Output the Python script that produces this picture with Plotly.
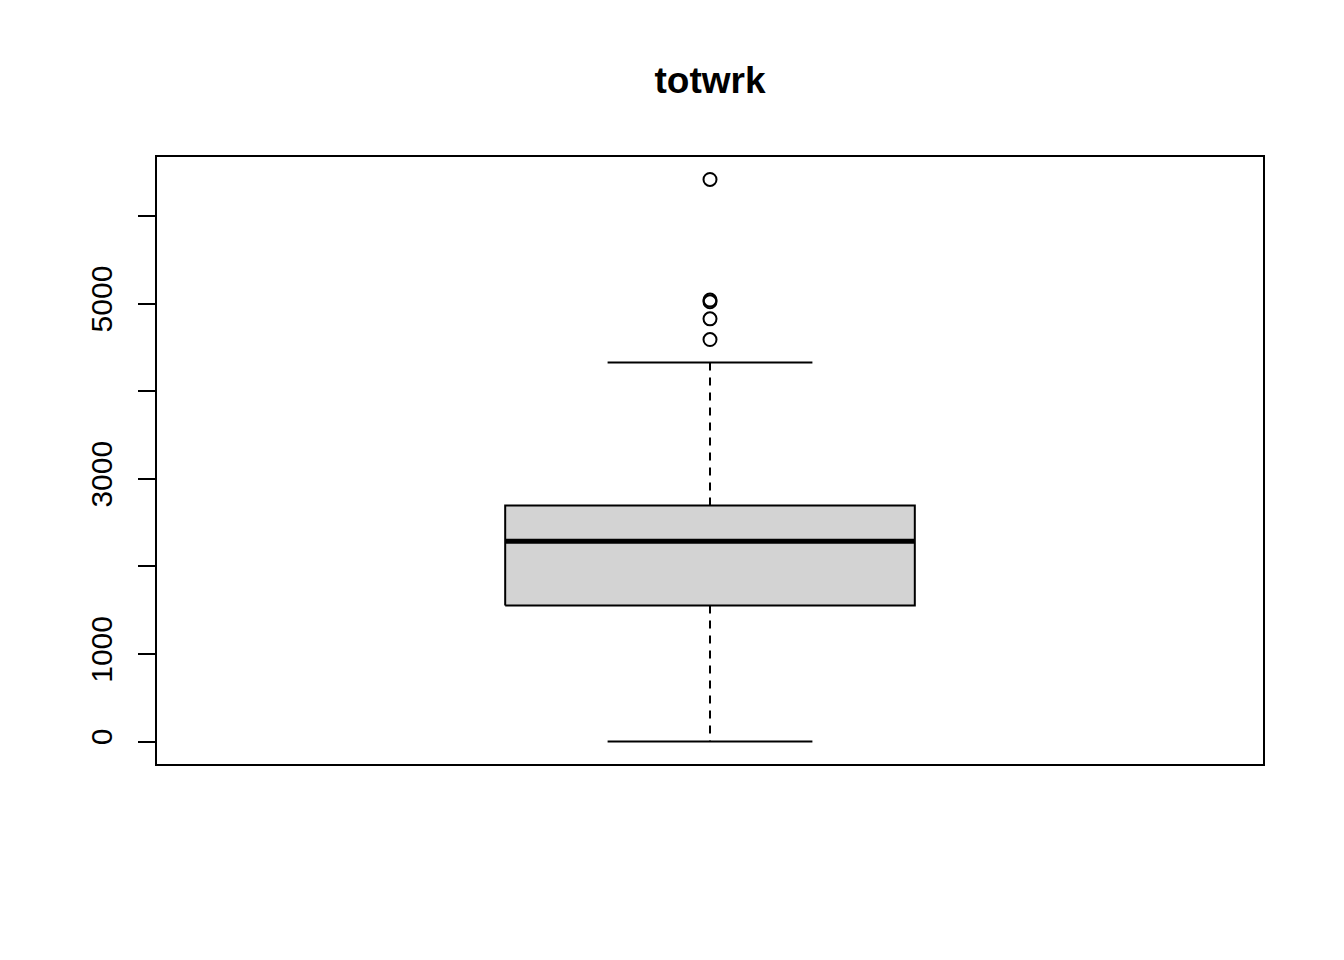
import plotly.graph_objects as go

# Data
title_text = "totwrk"
q1 = 1552
median = 2287
q3 = 2694
lower_whisker = 0
upper_whisker = 4326
outliers = [4589, 4825, 5020, 5040, 6416]
tick_vals = [0, 1000, 2000, 3000, 4000, 5000, 6000]
tick_text = ["0", "1000", "", "3000", "", "5000", ""]

pos = 1.0
half_box = 0.2
half_staple = 0.1

fig = go.Figure()

# Box body
fig.add_trace(go.Scatter(
    x=[pos - half_box, pos + half_box, pos + half_box, pos - half_box, pos - half_box],
    y=[q1, q1, q3, q3, q1],
    mode="lines", fill="toself", fillcolor="#d3d3d3",
    line=dict(color="black", width=2), hoverinfo="skip", showlegend=False))
# Median
fig.add_trace(go.Scatter(
    x=[pos - half_box, pos + half_box], y=[median, median],
    mode="lines", line=dict(color="black", width=5), showlegend=False))
# Whiskers (dashed)
fig.add_trace(go.Scatter(
    x=[pos, pos], y=[q3, upper_whisker], mode="lines",
    line=dict(color="black", width=2, dash="8px,7px"), showlegend=False))
fig.add_trace(go.Scatter(
    x=[pos, pos], y=[q1, lower_whisker], mode="lines",
    line=dict(color="black", width=2, dash="8px,7px"), showlegend=False))
# Staples
for v in [upper_whisker, lower_whisker]:
    fig.add_trace(go.Scatter(
        x=[pos - half_staple, pos + half_staple], y=[v, v], mode="lines",
        line=dict(color="black", width=2), showlegend=False))
# Outliers
fig.add_trace(go.Scatter(
    x=[pos] * len(outliers), y=outliers, mode="markers",
    marker=dict(symbol="circle-open", size=13, color="black", line=dict(width=2)),
    showlegend=False))

ymax = max(outliers)
ypad = 0.04 * (ymax - lower_whisker)

fig.update_layout(
    width=1344, height=960,
    margin=dict(l=157, r=81, t=157, b=196),
    paper_bgcolor="white", plot_bgcolor="white",
    font=dict(family="Liberation Sans, Arial", color="black"),
    title=dict(text="<b>" + title_text + "</b>", x=0.5, xref="paper",
               y=1 - 80 / 960, yref="container", yanchor="middle", xanchor="center",
               font=dict(size=37, color="black")),
    xaxis=dict(range=[0.46, 1.54], showgrid=False, zeroline=False,
               showticklabels=False, ticks="", showline=True, mirror=True,
               linecolor="black", linewidth=2),
    yaxis=dict(range=[lower_whisker - ypad, ymax + ypad], showgrid=False,
               zeroline=False, tickmode="array", tickvals=tick_vals,
               ticktext=tick_text, ticks="outside", ticklen=17, tickwidth=2,
               tickcolor="black", tickangle=-90, tickfont=dict(size=30),
               showline=True, mirror=True, linecolor="black", linewidth=2,
               ticklabelstandoff=14),
)

fig.write_html("out.html")
